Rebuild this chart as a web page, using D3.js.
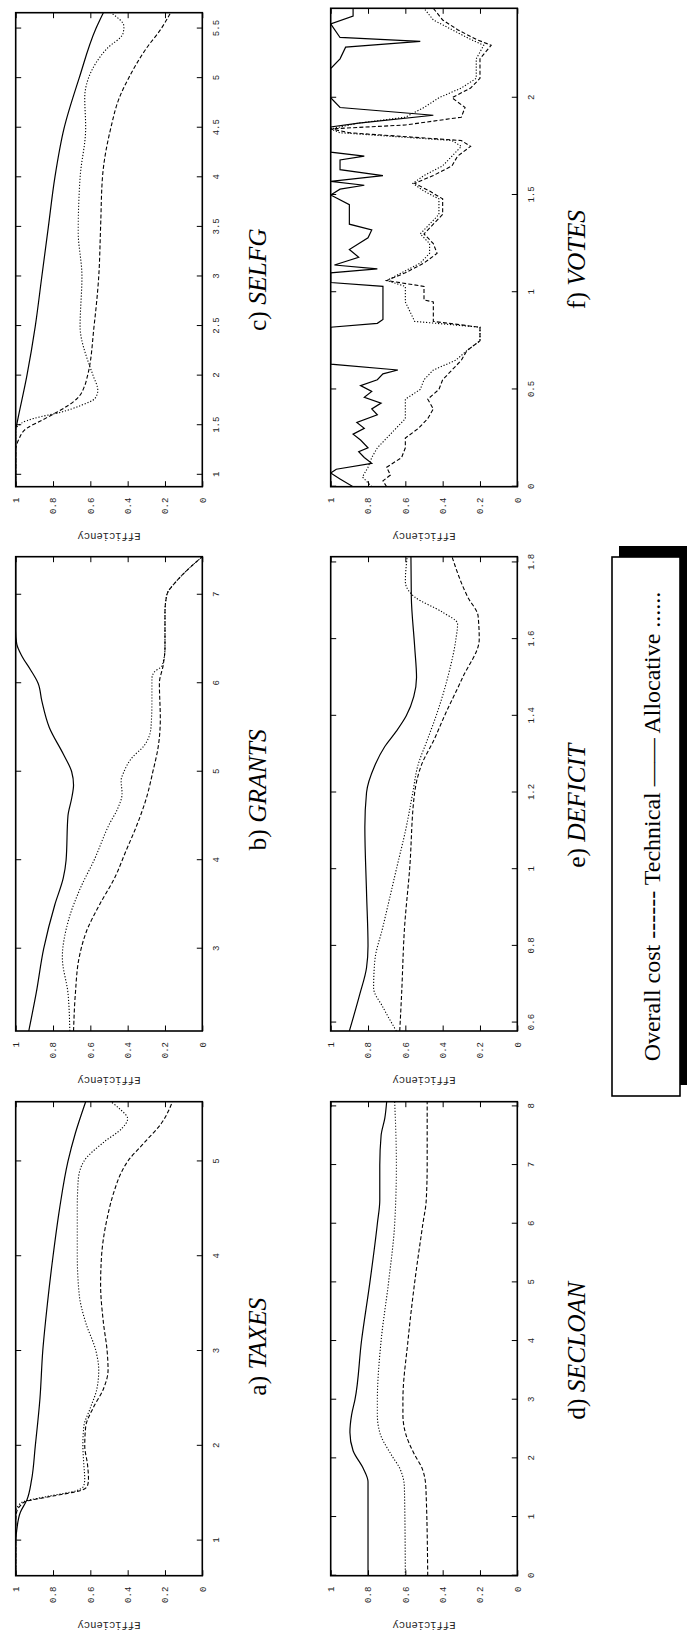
<!DOCTYPE html>
<html>
<head>
<meta charset="utf-8">
<script src="https://cdnjs.cloudflare.com/ajax/libs/d3/7.8.5/d3.min.js"></script>
<style>
body { margin: 0; background: #fff; }
</style>
</head>
<body>
<div id="chart"></div>
<script>
// values: [x, efficiency]
var taxesTechnical = [[0.63,1],[1.0,1],[1.1,0.995],[1.3,0.975],[1.43,0.94],[1.64,0.915],[2.0,0.895],[2.5,0.87],[3.0,0.855],[3.5,0.83],[4.0,0.80],[4.5,0.765],[5.0,0.72],[5.3,0.68],[5.63,0.625]];
var taxesOverall = [[0.63,1],[1.2,1],[1.3,0.995],[1.37,0.975],[1.41,0.95],[1.47,0.8],[1.53,0.65],[1.58,0.615],[1.65,0.61],[1.8,0.615],[2.0,0.63],[2.2,0.625],[2.4,0.585],[2.6,0.53],[2.8,0.505],[3.0,0.51],[3.3,0.53],[3.7,0.545],[4.0,0.54],[4.4,0.51],[4.7,0.47],[4.9,0.43],[5.0,0.40],[5.2,0.31],[5.4,0.22],[5.63,0.16]];
var taxesAllocative = [[0.63,1],[1.3,1],[1.37,0.985],[1.41,0.96],[1.47,0.82],[1.53,0.67],[1.58,0.635],[1.65,0.63],[1.8,0.635],[2.0,0.64],[2.2,0.635],[2.4,0.6],[2.6,0.565],[2.8,0.555],[3.0,0.57],[3.3,0.625],[3.6,0.66],[4.0,0.67],[4.5,0.67],[4.8,0.665],[5.0,0.635],[5.2,0.53],[5.35,0.43],[5.45,0.40],[5.55,0.44],[5.63,0.49]];

var grantsTechnical = [[2.07,0.93],[2.5,0.89],[3.0,0.85],[3.5,0.79],[3.8,0.745],[4.0,0.73],[4.5,0.72],[4.7,0.70],[4.85,0.69],[5.0,0.70],[5.2,0.745],[5.5,0.82],[5.8,0.86],[6.0,0.88],[6.15,0.92],[6.3,0.965],[6.45,0.995],[6.6,1.0],[7.43,1.0]];
var grantsOverall = [[2.07,0.69],[2.5,0.68],[2.9,0.66],[3.2,0.62],[3.5,0.55],[3.8,0.47],[4.1,0.41],[4.4,0.35],[4.7,0.30],[5.0,0.265],[5.3,0.235],[5.6,0.225],[6.0,0.23],[6.2,0.21],[6.4,0.2],[6.8,0.2],[7.0,0.19],[7.15,0.14],[7.3,0.07],[7.43,0.0]];
var grantsAllocative = [[2.07,0.71],[2.5,0.72],[2.9,0.75],[3.3,0.72],[3.7,0.65],[4.0,0.58],[4.4,0.5],[4.6,0.45],[4.75,0.43],[4.9,0.435],[5.0,0.42],[5.15,0.38],[5.3,0.31],[5.5,0.275],[5.8,0.27],[6.05,0.27],[6.12,0.26],[6.2,0.215],[6.4,0.2],[6.8,0.2],[7.0,0.19],[7.15,0.14],[7.3,0.07],[7.43,0.0]];

var selfgTechnical = [[0.88,1],[1.45,1],[1.5,0.995],[2.0,0.94],[2.5,0.895],[3.0,0.86],[3.5,0.825],[4.0,0.79],[4.5,0.74],[5.0,0.66],[5.5,0.57],[5.66,0.53]];
var selfgOverall = [[0.88,1],[1.25,1],[1.35,0.985],[1.47,0.94],[1.55,0.86],[1.63,0.78],[1.77,0.67],[1.9,0.63],[2.0,0.615],[2.5,0.58],[3.0,0.555],[3.5,0.545],[4.0,0.535],[4.5,0.49],[4.8,0.445],[5.0,0.395],[5.3,0.30],[5.5,0.22],[5.66,0.17]];
var selfgAllocative = [[0.88,1],[1.45,1],[1.52,0.97],[1.57,0.9],[1.63,0.76],[1.7,0.65],[1.77,0.575],[1.85,0.56],[2.0,0.585],[2.13,0.61],[2.5,0.655],[3.0,0.645],[3.45,0.665],[4.0,0.655],[4.5,0.625],[4.8,0.63],[5.0,0.61],[5.3,0.51],[5.45,0.425],[5.52,0.42],[5.66,0.49]];

var secloanTechnical = [[0,0.8],[1.6,0.8],[1.83,0.826],[2.13,0.88],[2.44,0.897],[2.74,0.888],[3.0,0.87],[4.0,0.835],[5.0,0.79],[6.0,0.75],[6.4,0.737],[7.0,0.737],[7.5,0.73],[7.8,0.71],[8.08,0.70]];
var secloanOverall = [[0,0.48],[1.5,0.49],[1.83,0.51],[2.06,0.55],[2.44,0.60],[2.74,0.613],[3.0,0.613],[4.0,0.586],[5.0,0.55],[6.0,0.506],[6.4,0.488],[7.0,0.483],[8.08,0.483]];
var secloanAllocative = [[0,0.60],[1.5,0.605],[1.83,0.63],[2.06,0.675],[2.44,0.737],[2.74,0.75],[3.0,0.75],[4.0,0.73],[5.0,0.69],[6.0,0.657],[7.0,0.648],[8.08,0.657]];

var deficitTechnical = [[0.578,0.9],[0.674,0.844],[0.743,0.808],[0.8,0.80],[0.94,0.808],[1.11,0.817],[1.2,0.808],[1.27,0.764],[1.32,0.71],[1.36,0.648],[1.4,0.595],[1.45,0.555],[1.5,0.54],[1.58,0.55],[1.71,0.568],[1.815,0.57]];
var deficitOverall = [[0.578,0.63],[0.674,0.62],[0.85,0.604],[1.0,0.577],[1.2,0.55],[1.27,0.515],[1.34,0.444],[1.4,0.39],[1.5,0.293],[1.6,0.204],[1.66,0.21],[1.71,0.266],[1.815,0.35]];
var deficitAllocative = [[0.578,0.648],[0.64,0.72],[0.69,0.77],[0.76,0.764],[0.85,0.72],[1.0,0.648],[1.11,0.595],[1.2,0.56],[1.27,0.533],[1.34,0.48],[1.4,0.435],[1.5,0.373],[1.6,0.329],[1.64,0.32],[1.67,0.40],[1.71,0.55],[1.75,0.60],[1.815,0.59]];

var votesTechnical = [[0,0.88],[0.04,0.95],[0.07,1],[0.09,0.97],[0.12,0.78],[0.15,0.82],[0.18,0.85],[0.2,0.8],[0.24,0.84],[0.27,0.88],[0.3,0.82],[0.33,0.86],[0.37,0.75],[0.4,0.78],[0.43,0.73],[0.46,0.82],[0.49,0.78],[0.52,0.84],[0.55,0.75],[0.58,0.72],[0.6,0.64],[0.63,1.0],[0.82,1.0],[0.84,0.75],[0.86,0.72],[1.03,0.72],[1.05,1.0],[1.1,1.0],[1.12,0.75],[1.14,0.98],[1.18,0.85],[1.22,0.9],[1.28,0.8],[1.32,0.78],[1.35,0.9],[1.45,0.9],[1.5,1.0],[1.53,0.95],[1.55,0.82],[1.57,1.0],[1.6,0.72],[1.63,0.95],[1.68,0.95],[1.7,0.82],[1.72,1.0],[1.85,1.0],[1.87,0.85],[1.91,0.45],[1.95,0.95],[2.0,1.0],[2.15,1.0],[2.2,0.95],[2.26,0.92],[2.29,0.52],[2.31,0.95],[2.38,1.0],[2.42,0.88],[2.46,0.88]];
var votesOverall = [[0,0.7],[0.03,0.72],[0.06,0.68],[0.1,0.7],[0.15,0.62],[0.2,0.6],[0.25,0.6],[0.3,0.53],[0.35,0.48],[0.4,0.45],[0.45,0.48],[0.5,0.42],[0.55,0.4],[0.6,0.35],[0.65,0.3],[0.7,0.27],[0.75,0.2],[0.82,0.2],[0.85,0.45],[0.95,0.45],[0.96,0.5],[1.03,0.5],[1.06,0.7],[1.1,0.6],[1.15,0.5],[1.2,0.43],[1.25,0.45],[1.3,0.5],[1.35,0.45],[1.4,0.4],[1.48,0.4],[1.52,0.47],[1.56,0.55],[1.6,0.45],[1.65,0.35],[1.7,0.32],[1.75,0.25],[1.78,0.3],[1.82,0.9],[1.84,1.0],[1.86,0.6],[1.9,0.3],[1.95,0.28],[2.0,0.35],[2.05,0.25],[2.1,0.2],[2.2,0.2],[2.27,0.14],[2.3,0.22],[2.35,0.32],[2.4,0.4],[2.46,0.45]];
var votesAllocative = [[0,0.78],[0.05,0.83],[0.1,0.8],[0.15,0.78],[0.2,0.75],[0.25,0.7],[0.3,0.65],[0.35,0.6],[0.45,0.6],[0.5,0.52],[0.55,0.5],[0.6,0.45],[0.65,0.33],[0.7,0.27],[0.75,0.2],[0.82,0.2],[0.85,0.55],[0.95,0.6],[1.03,0.6],[1.06,0.7],[1.1,0.62],[1.15,0.52],[1.2,0.47],[1.25,0.47],[1.3,0.52],[1.35,0.47],[1.4,0.42],[1.48,0.42],[1.52,0.5],[1.56,0.56],[1.6,0.5],[1.65,0.4],[1.7,0.35],[1.75,0.3],[1.78,0.35],[1.82,0.95],[1.84,1.0],[1.87,0.85],[1.9,0.6],[1.95,0.5],[2.0,0.42],[2.05,0.3],[2.1,0.22],[2.2,0.22],[2.27,0.18],[2.3,0.25],[2.35,0.35],[2.4,0.45],[2.46,0.5]];

// x ranges and ticks of each panel
var taxesDomain = [0.63, 5.63], taxesTicks = [1, 2, 3, 4, 5];
var grantsDomain = [2.07, 7.43], grantsTicks = [3, 4, 5, 6, 7];
var selfgDomain = [0.88, 5.66], selfgTicks = [1, 1.5, 2, 2.5, 3, 3.5, 4, 4.5, 5, 5.5];
var secloanDomain = [0, 8.08], secloanTicks = [0, 1, 2, 3, 4, 5, 6, 7, 8];
var deficitDomain = [0.578, 1.815], deficitTicks = [0.6, 0.8, 1, 1.2, 1.4, 1.6, 1.8];
var votesDomain = [0, 2.46], votesTicks = [0, 0.5, 1, 1.5, 2];
var effTicks = [0, 0.2, 0.4, 0.6, 0.8, 1];

var legendText = "Overall cost ------ Technical \u2014\u2014 Allocative ......";

var W = 1641, H = 687;

var svg = d3.select("#chart").append("svg")
    .attr("width", H).attr("height", W);

// the page is drawn in landscape, then turned a quarter to the left
var page = svg.append("g").attr("transform", "translate(0," + W + ") rotate(-90)");

var panels = [
    {title: "a) ", name: "TAXES", domain: taxesDomain, ticks: taxesTicks, u: [65.3, 539.3], v: [15.7, 202.3], shift: -8,
     series: [taxesOverall, taxesTechnical, taxesAllocative], curve: d3.curveMonotoneX},
    {title: "b) ", name: "GRANTS", domain: grantsDomain, ticks: grantsTicks, u: [610, 1084.3], v: [15.7, 202.3], shift: 4,
     series: [grantsOverall, grantsTechnical, grantsAllocative], curve: d3.curveMonotoneX},
    {title: "c) ", name: "SELFG", domain: selfgDomain, ticks: selfgTicks, u: [1154.3, 1628.3], v: [15.7, 202.3], shift: -30,
     series: [selfgOverall, selfgTechnical, selfgAllocative], curve: d3.curveMonotoneX},
    {title: "d) ", name: "SECLOAN", domain: secloanDomain, ticks: secloanTicks, u: [65.3, 539.3], v: [330.7, 517.3], shift: -12,
     series: [secloanOverall, secloanTechnical, secloanAllocative], curve: d3.curveMonotoneX},
    {title: "e) ", name: "DEFICIT", domain: deficitDomain, ticks: deficitTicks, u: [610, 1084.3], v: [330.7, 517.3], shift: -12,
     series: [deficitOverall, deficitTechnical, deficitAllocative], curve: d3.curveMonotoneX},
    {title: "f) ", name: "VOTES", domain: votesDomain, ticks: votesTicks, u: [1154.3, 1632.7], v: [330.7, 517.3], shift: -12,
     series: [votesOverall, votesTechnical, votesAllocative], curve: d3.curveLinear}
];

// overall cost, technical, allocative
var dashes = ["4,2.2", null, "1.2,1.8"];
var widths = [1.1, 1.2, 1.1];
var tickLen = 5.5;

panels.forEach(function(p) {
    var x = d3.scaleLinear().domain(p.domain).range(p.u);
    var y = d3.scaleLinear().domain([0, 1]).range([p.v[1], p.v[0]]);
    var g = page.append("g");

    var clipId = "clip" + p.name;
    g.append("clipPath").attr("id", clipId).append("rect")
        .attr("x", p.u[0]).attr("y", p.v[0])
        .attr("width", p.u[1] - p.u[0]).attr("height", p.v[1] - p.v[0]);

    var line = d3.line().x(function(d){ return x(d[0]); }).y(function(d){ return y(d[1]); }).curve(p.curve);

    p.series.forEach(function(s, i) {
        g.append("path")
            .datum(s)
            .attr("clip-path", "url(#" + clipId + ")")
            .attr("d", line)
            .attr("fill", "none")
            .attr("stroke", "#000")
            .attr("stroke-width", widths[i])
            .attr("stroke-dasharray", dashes[i]);
    });

    // inward ticks, mirrored on both sides
    var bottom = d3.axisBottom(x).tickValues(p.ticks).tickSizeInner(-tickLen).tickSizeOuter(0).tickFormat(d3.format("~g"));
    var top = d3.axisTop(x).tickValues(p.ticks).tickSizeInner(-tickLen).tickSizeOuter(0).tickFormat("");
    var left = d3.axisLeft(y).tickValues(effTicks).tickSizeInner(-tickLen).tickSizeOuter(0).tickFormat(d3.format("~g"));
    var right = d3.axisRight(y).tickValues(effTicks).tickSizeInner(-tickLen).tickSizeOuter(0).tickFormat("");

    var gb = g.append("g").attr("transform", "translate(0," + p.v[1] + ")").call(bottom);
    g.append("g").attr("transform", "translate(0," + p.v[0] + ")").call(top);
    var gl = g.append("g").attr("transform", "translate(" + p.u[0] + ",0)").call(left);
    g.append("g").attr("transform", "translate(" + p.u[1] + ",0)").call(right);

    g.selectAll(".domain").remove();
    g.selectAll(".tick line").attr("stroke", "#000").attr("stroke-width", 1);
    gb.selectAll("text").attr("y", 10).attr("dy", "0.71em");
    gl.selectAll("text").attr("x", -11);
    g.selectAll(".tick text")
        .attr("font-family", "'Liberation Mono', monospace")
        .attr("font-size", 9)
        .attr("fill", "#222");

    g.append("rect")
        .attr("x", p.u[0]).attr("y", p.v[0])
        .attr("width", p.u[1] - p.u[0]).attr("height", p.v[1] - p.v[0])
        .attr("fill", "none").attr("stroke", "#000").attr("stroke-width", 1.6);

    // y label
    g.append("text")
        .attr("transform", "translate(" + (p.u[0] - 46) + "," + ((p.v[0] + p.v[1]) / 2) + ") rotate(-90)")
        .attr("text-anchor", "middle")
        .attr("font-family", "'Liberation Mono', monospace")
        .attr("font-size", 10.5)
        .attr("fill", "#222")
        .text("Efficiency");

    // caption
    var cap = g.append("text")
        .attr("x", (p.u[0] + p.u[1]) / 2 + p.shift)
        .attr("y", p.v[1] + (p.v[0] < 100 ? 64 : 68))
        .attr("text-anchor", "middle")
        .attr("font-family", "'Liberation Serif', serif")
        .attr("font-size", 25.5);
    cap.append("tspan").text(p.title);
    cap.append("tspan").attr("font-style", "italic").text(p.name);
});

// legend box with its shadow
var lg = page.append("g");
lg.append("rect")
    .attr("x", 556).attr("y", 619).attr("width", 539).attr("height", 68)
    .attr("fill", "#000");
lg.append("rect")
    .attr("x", 545).attr("y", 612).attr("width", 539).attr("height", 68)
    .attr("fill", "#fff").attr("stroke", "#000").attr("stroke-width", 1.6);
lg.append("text")
    .attr("x", 545 + 539 / 2).attr("y", 660)
    .attr("text-anchor", "middle")
    .attr("font-family", "'Liberation Serif', serif")
    .attr("font-size", 24)
    .text(legendText);
</script>
</body>
</html>
